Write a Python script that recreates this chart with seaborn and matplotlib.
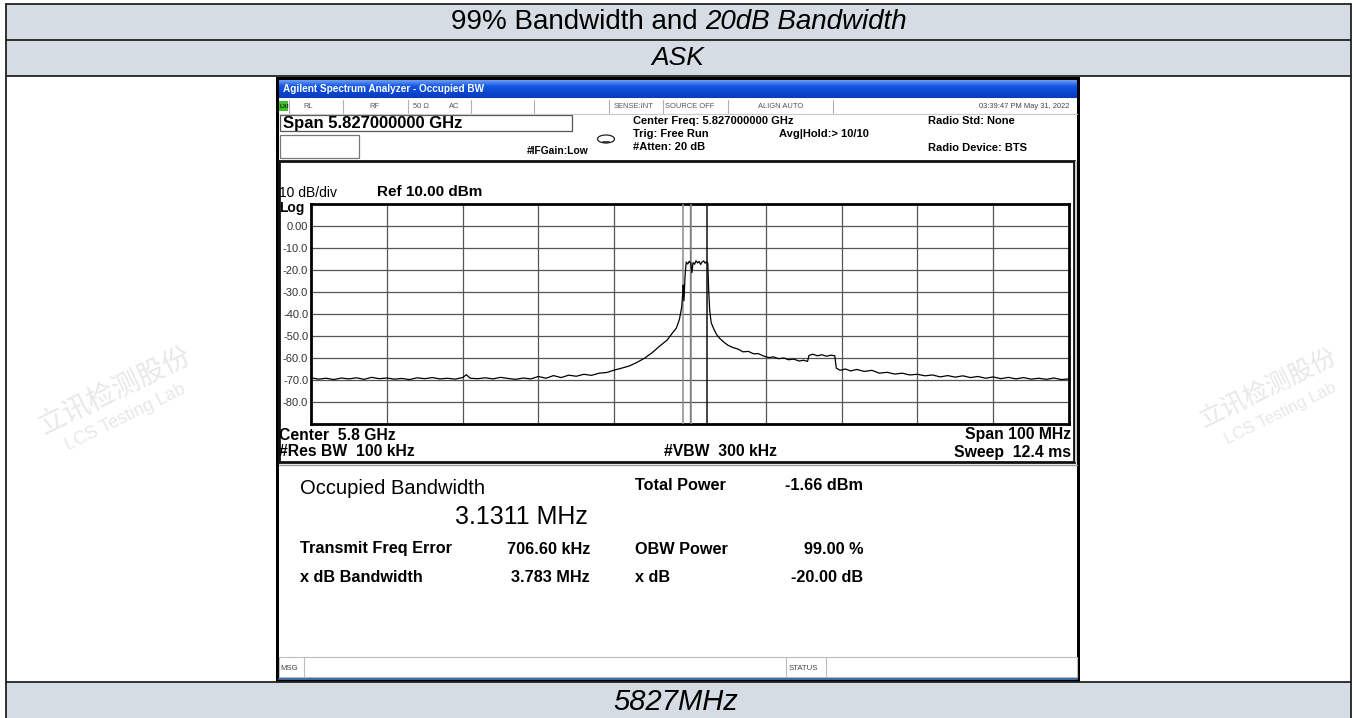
import numpy as np
import pandas as pd
import matplotlib.pyplot as plt
import seaborn as sns
from matplotlib.patches import Rectangle, Ellipse
from matplotlib.colors import LinearSegmentedColormap

# trace (MHz, dBm)
freq_mhz = [
    5750, 5751, 5752, 5753, 5754, 5755, 5756, 5757, 5758, 5759,
    5760, 5761, 5762, 5763, 5764, 5765, 5766, 5767, 5768, 5769,
    5770, 5770.5, 5771, 5772, 5773, 5774, 5775, 5776, 5777, 5778,
    5779, 5780, 5781, 5782, 5783, 5784, 5785, 5786, 5787, 5788,
    5789, 5790, 5791, 5792, 5793, 5794, 5795, 5796, 5797, 5797.6,
    5798.2, 5798.6, 5798.9, 5799.05, 5799.1, 5799.2, 5799.35, 5799.5, 5799.7, 5799.9,
    5800.1, 5800.25, 5800.4, 5800.6, 5800.8, 5801.0, 5801.2, 5801.4, 5801.6, 5801.8,
    5802.0, 5802.2, 5802.35, 5802.45, 5802.6, 5802.8, 5803.1, 5803.5, 5803.9, 5804.4,
    5805.0, 5805.7, 5806.3, 5807.0, 5807.7, 5808.4, 5809.0, 5809.7, 5810.4, 5811.0,
    5811.7, 5812.4, 5813.0, 5813.7, 5814.4, 5815.0, 5815.5, 5815.7, 5816.2, 5816.8,
    5817.4, 5818.0, 5818.6, 5819.1, 5819.3, 5819.8, 5820.5, 5821.2, 5822, 5823,
    5824, 5825, 5826, 5827, 5828, 5829, 5830, 5831, 5832, 5833,
    5834, 5835, 5836, 5837, 5838, 5839, 5840, 5841, 5842, 5843,
    5844, 5845, 5846, 5847, 5848, 5849, 5850,
]
level_dbm = [
    -69.0, -69.6, -69.2, -69.8, -69.1, -69.5, -69.0, -69.7, -68.8, -69.4,
    -69.1, -69.6, -69.3, -69.8, -69.0, -69.4, -68.9, -69.5, -69.2, -69.6,
    -68.9, -67.6, -69.2, -69.4, -69.0, -69.5, -68.8, -69.3, -69.7, -69.1,
    -69.5, -68.4, -69.2, -68.0, -68.9, -67.8, -68.3, -67.4, -67.9, -66.9,
    -66.6, -65.5, -64.6, -63.6, -62.0, -60.1, -57.6, -54.6, -51.8, -49.0,
    -46.4, -42.5, -37.0, -30.5, -26.8, -34.0, -22.5, -16.4, -17.3, -16.0,
    -16.9, -21.2, -16.6, -17.4, -15.8, -16.8, -16.1, -17.5, -16.3, -15.9,
    -16.9, -16.2, -17.0, -28.0, -38.5, -44.0, -46.5, -49.3, -51.0, -52.6,
    -54.2, -55.3, -55.9, -57.2, -57.0, -58.1, -58.0, -59.1, -59.8, -59.5,
    -60.3, -60.0, -60.8, -60.5, -61.4, -61.0, -61.6, -58.8, -58.3, -59.0,
    -58.5, -59.2, -58.7, -59.0, -64.6, -65.6, -65.0, -65.9, -65.2, -66.1,
    -65.6, -66.9, -66.5, -67.3, -66.9, -67.7, -67.4, -68.1, -67.7, -68.6,
    -68.0, -68.7, -68.1, -68.9, -68.4, -69.2, -68.6, -69.4, -68.8, -69.5,
    -68.9, -69.6, -69.2, -69.7, -69.1, -69.8, -69.5,
]
marker_mhz = [5799.1, 5800.1, 5802.3]
marker_colors = ['#8a8a8a', '#8a8a8a', '#111111']
y_ticks = [0, -10, -20, -30, -40, -50, -60, -70, -80]
y_tick_labels = ['0.00', '-10.0', '-20.0', '-30.0', '-40.0', '-50.0', '-60.0', '-70.0', '-80.0']
x_grid = [5760, 5770, 5780, 5790, 5800, 5810, 5820, 5830, 5840]

status_cells = [('RL', 303), ('RF', 369), ('50 Ω', 413), ('AC', 449),
                ('SENSE:INT', 614), ('SOURCE OFF', 665), ('ALIGN AUTO', 758)]
result_rows = [
    ('Transmit Freq Error', '706.60 kHz', 'OBW Power', '99.00 %', 549),
    ('x dB Bandwidth', '3.783 MHz', 'x dB', '-20.00 dB', 577),
]

sns.set_theme(style='white')
plt.rcParams['font.family'] = ['Liberation Sans', 'Noto Sans CJK SC', 'DejaVu Sans']
plt.rcParams['text.color'] = 'black'

W, H = 1356, 718
fig = plt.figure(figsize=(W / 100, H / 100), dpi=100)
fig.patch.set_facecolor('white')
bg = fig.add_axes([0, 0, 1, 1])
bg.set_xlim(0, W)
bg.set_ylim(H, 0)
bg.axis('off')

# ---- report table ----
row_fill = '#D6DCE4'
for y0, h in [(4, 36), (40, 36), (682, 36)]:
    bg.add_patch(Rectangle((6, y0), 1345, h, fc=row_fill, ec='none'))
for y in [4, 40, 76, 682]:
    bg.plot([6, 1351], [y, y], color='#222222', lw=1.3)
bg.plot([6, 6], [4, H], color='#222222', lw=1.3)
bg.plot([1351, 1351], [4, H], color='#222222', lw=1.3)

bg.text(705, 22, '99% Bandwidth and ', ha='right', va='center', fontsize=20)
bg.text(705, 22, '20dB Bandwidth', ha='left', va='center', fontsize=20, style='italic')
bg.text(678, 58, 'ASK', ha='center', va='center', fontsize=19, style='italic')
bg.text(676, 702, '5827MHz', ha='center', va='center', fontsize=21, style='italic')

# faint watermarks
wm = '#e6e9e6'
bg.text(115, 392, '立讯检测股份', fontsize=20, color=wm, rotation=26, ha='center', va='center')
bg.text(125, 418, 'LCS Testing Lab', fontsize=13, color=wm, rotation=26, ha='center', va='center')
bg.text(1268, 388, '立讯检测股份', fontsize=18, color=wm, rotation=26, ha='center', va='center')
bg.text(1280, 414, 'LCS Testing Lab', fontsize=12, color=wm, rotation=26, ha='center', va='center')

# ---- analyzer screenshot ----
bg.add_patch(Rectangle((276, 77), 804, 605, fc='black', ec='none'))
bg.add_patch(Rectangle((279, 98), 798, 581, fc='#f6f6f3', ec='none'))
grad = LinearSegmentedColormap.from_list('bar', ['#6c9cf4', '#1457e6', '#0b47d2', '#0a3cb8'])
bg.imshow(np.linspace(0, 1, 32).reshape(-1, 1), cmap=grad, aspect='auto',
          extent=[279, 1077, 98, 80], zorder=1)
bg.text(283, 89, 'Agilent Spectrum Analyzer - Occupied BW', color='white', fontsize=7.2,
        fontweight='bold', va='center', zorder=2)

# status row
bg.add_patch(Rectangle((279, 99), 798, 15, fc='white', ec='none'))
for x in [289, 343, 408, 471, 534, 609, 663, 728, 833]:
    bg.plot([x, x], [100, 113], color='#b0b0b0', lw=0.8)
bg.plot([279, 1077], [114, 114], color='#c8c8c8', lw=0.8)
bg.add_patch(Rectangle((279, 101), 9, 10, fc='#3fbf2a', ec='none'))
bg.text(280, 106.5, 'LXI', fontsize=4.5, fontweight='bold', va='center', color='#113311')
for label, x in status_cells:
    bg.text(x, 107, label, fontsize=5.4, va='center', color='#555555')
bg.text(1069, 107, '03:39:47 PM May 31, 2022', fontsize=5.4, va='center', ha='right', color='#444444')

# settings block
bg.add_patch(Rectangle((279, 114), 798, 47, fc='white', ec='none'))
bg.add_patch(Rectangle((280, 115), 292, 16, fc='white', ec='#555555', lw=0.9))
bg.text(283, 123.5, 'Span 5.827000000 GHz', fontsize=12, fontweight='bold', va='center')
bg.add_patch(Rectangle((280, 135), 79, 23, fc='white', ec='#777777', lw=0.9))
bg.text(527, 151, '#IFGain:Low', fontsize=7.4, fontweight='bold', va='center')
bg.add_patch(Ellipse((606, 139), 17, 8, fc='white', ec='#222222', lw=0.9))
bg.plot([603, 609], [141.5, 141.5], color='#222222', lw=1.2)
bg.text(633, 121, 'Center Freq: 5.827000000 GHz', fontsize=8, fontweight='bold', va='center')
bg.text(633, 134, 'Trig: Free Run', fontsize=8, fontweight='bold', va='center')
bg.text(633, 147, '#Atten: 20 dB', fontsize=8, fontweight='bold', va='center')
bg.text(779, 134, 'Avg|Hold:> 10/10', fontsize=8, fontweight='bold', va='center')
bg.text(928, 121, 'Radio Std: None', fontsize=8, fontweight='bold', va='center')
bg.text(928, 148, 'Radio Device: BTS', fontsize=8, fontweight='bold', va='center')

# graticule box
bg.add_patch(Rectangle((279, 161), 795, 301, fc='white', ec='#111111', lw=2))
bg.add_patch(Rectangle((1075, 161), 2, 301, fc='#cfcfcf', ec='none'))
bg.text(279, 193, '10 dB/div', fontsize=10, va='center')
bg.text(377, 192, 'Ref 10.00 dBm', fontsize=11, fontweight='bold', va='center')
bg.text(279, 208, 'Log', fontsize=10, fontweight='bold', va='center')
bg.text(279, 435, 'Center  5.8 GHz', fontsize=11.3, fontweight='bold', va='center')
bg.text(279, 452, '#Res BW  100 kHz', fontsize=11.3, fontweight='bold', va='center')
bg.text(664, 452, '#VBW  300 kHz', fontsize=11.3, fontweight='bold', va='center')
bg.text(1071, 435, 'Span 100 MHz', fontsize=11.3, fontweight='bold', va='center', ha='right')
bg.text(1071, 452, 'Sweep  12.4 ms', fontsize=11.3, fontweight='bold', va='center', ha='right')

# results panel
bg.add_patch(Rectangle((279, 465), 798, 192, fc='white', ec='none'))
bg.plot([279, 1077], [465, 465], color='#9a9a9a', lw=1)
bg.text(300, 489, 'Occupied Bandwidth', fontsize=14.5, va='center')
bg.text(588, 517, '3.1311 MHz', fontsize=18, va='center', ha='right')
bg.text(635, 486, 'Total Power', fontsize=11.7, fontweight='bold', va='center')
bg.text(863, 486, '-1.66 dBm', fontsize=11.7, fontweight='bold', va='center', ha='right')
for lab, val, lab2, val2, y in result_rows:
    bg.text(300, y, lab, fontsize=11.7, fontweight='bold', va='center')
    bg.text(590, y, val, fontsize=11.7, fontweight='bold', va='center', ha='right')
    bg.text(635, y, lab2, fontsize=11.7, fontweight='bold', va='center')
    bg.text(863, y, val2, fontsize=11.7, fontweight='bold', va='center', ha='right')

# message bar
bg.add_patch(Rectangle((279, 657), 798, 20, fc='white', ec='#bdbdbd', lw=0.8))
for x in [304, 786, 826]:
    bg.plot([x, x], [657, 677], color='#bdbdbd', lw=0.8)
bg.plot([279, 1077], [678.5, 678.5], color='#3a6ea5', lw=1.5)
bg.text(280, 668, 'MSG', fontsize=5.6, va='center', color='#444444')
bg.text(789, 668, 'STATUS', fontsize=5.6, va='center', color='#444444')

# ---- spectrum trace ----
ax = fig.add_axes([311 / W, 1 - 424 / H, 758 / W, 220 / H])
df = pd.DataFrame({'freq': freq_mhz, 'level': level_dbm})
sns.lineplot(data=df, x='freq', y='level', color='black', lw=0.9, ax=ax, zorder=5)
for f, c in zip(marker_mhz, marker_colors):
    ax.axvline(f, color=c, lw=1.1, zorder=4)
ax.set_xlim(5750, 5850)
ax.set_ylim(-90, 10)
ax.set_xticks(x_grid)
ax.set_xticklabels([])
ax.set_yticks(y_ticks)
ax.set_yticklabels(y_tick_labels, fontsize=8, color='#333333')
ax.tick_params(length=0, pad=2)
ax.grid(True, color='#555555', lw=0.9)
ax.set_xlabel('')
ax.set_ylabel('')
for s in ax.spines.values():
    s.set_color('black')
    s.set_linewidth(2)

fig.savefig('out.png', dpi=100)
